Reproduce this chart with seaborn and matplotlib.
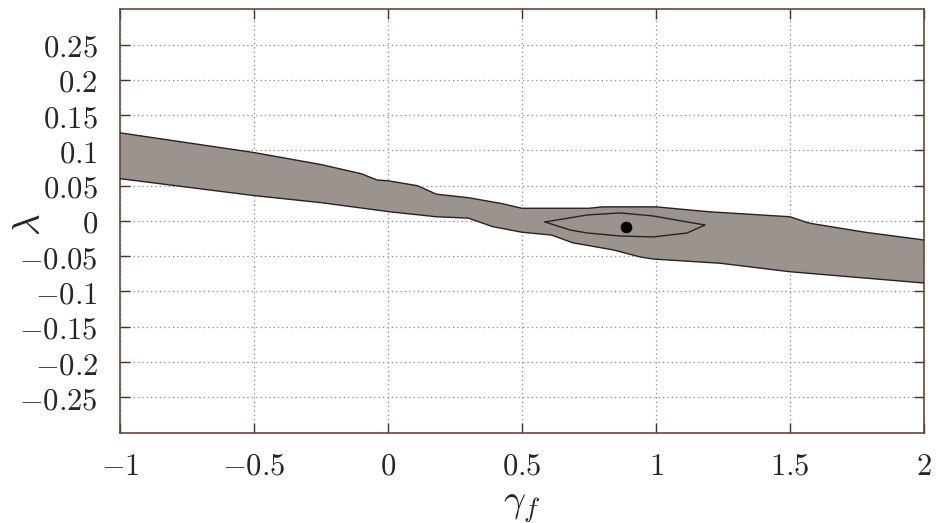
import matplotlib
matplotlib.use("Agg")
import matplotlib.pyplot as plt
import seaborn as sns
import numpy as np
import pandas as pd

# ---- data ----
upper_x = [-1.0, -0.5, -0.25, -0.1, -0.04, 0.0, 0.11, 0.18, 0.3, 0.42, 0.5, 0.75, 0.8, 1.0, 1.2, 1.5, 1.57, 1.78, 2.0]
upper_y = [0.125, 0.097, 0.08, 0.067, 0.058, 0.057, 0.05, 0.038, 0.033, 0.025, 0.018, 0.018, 0.02, 0.02, 0.013, 0.006, -0.003, -0.016, -0.027]
lower_x = [-1.0, -0.5, -0.25, 0.007, 0.18, 0.3, 0.39, 0.5, 0.61, 0.69, 0.84, 0.94, 0.99, 1.24, 1.5, 2.0]
lower_y = [0.06, 0.036, 0.026, 0.013, 0.006, 0.004, -0.008, -0.016, -0.02, -0.031, -0.041, -0.051, -0.054, -0.06, -0.072, -0.088]

inner_up_x = [0.586, 0.743, 0.866, 0.989, 1.116, 1.183]
inner_up_y = [-0.0014, 0.0085, 0.0114, 0.0071, -0.0014, -0.0057]
inner_lo_x = [0.586, 0.679, 0.743, 0.866, 0.989, 1.116, 1.183]
inner_lo_y = [-0.0014, -0.0128, -0.017, -0.0213, -0.0227, -0.017, -0.0057]

best_x = [0.888]
best_y = [-0.0085]

x_ticks = [-1, -0.5, 0, 0.5, 1, 1.5, 2]
y_ticks = [-0.25, -0.2, -0.15, -0.1, -0.05, 0, 0.05, 0.1, 0.15, 0.2, 0.25]

sns.set_theme(style="white")
plt.rcParams['font.family'] = ['DejaVu Serif']
plt.rcParams['mathtext.fontset'] = 'cm'

fig = plt.figure(figsize=(9.41, 5.23), dpi=100)
ax = fig.add_axes([0.1275, 0.173, 0.8545, 0.809])

fill_col = "#9b938e"
edge_col = "#2b2220"

# outer region polygon
poly_x = upper_x + lower_x[::-1]
poly_y = upper_y + lower_y[::-1]
ax.fill(poly_x, poly_y, color=fill_col, lw=0, zorder=2)
sns.lineplot(x=upper_x, y=upper_y, ax=ax, color=edge_col, lw=1.0, sort=False, estimator=None, zorder=3)
sns.lineplot(x=lower_x, y=lower_y, ax=ax, color=edge_col, lw=1.0, sort=False, estimator=None, zorder=3)

# inner contour
in_x = inner_up_x + inner_lo_x[::-1]
in_y = inner_up_y + inner_lo_y[::-1]
ax.plot(in_x, in_y, color=edge_col, lw=1.0, zorder=4)

sns.scatterplot(x=best_x, y=best_y, ax=ax, color="black", s=60, edgecolor="black", zorder=5)

ax.set_xlim(-1, 2)
ax.set_ylim(-0.3, 0.3)
ax.set_xticks(x_ticks)
ax.set_yticks(y_ticks)

def fmt(v):
    return r"$%s$" % ("%g" % v)

ax.set_xticklabels([fmt(v) for v in x_ticks], fontsize=22)
ax.set_yticklabels([fmt(v) for v in y_ticks], fontsize=22)

ax.grid(True, linestyle=(0, (1, 2.5)), color="#8a8a8a", lw=0.9, zorder=1)
ax.set_axisbelow(True)
ax.tick_params(direction="in", length=7, width=1.0, color="#4a3028",
               top=True, right=True, bottom=True, left=True)
ax.tick_params(axis="y", pad=16)
ax.tick_params(axis="x", pad=13)
for s in ax.spines.values():
    s.set_color("#6b4636")
    s.set_linewidth(1.2)

ax.set_xlabel(r"$\gamma_f$", fontsize=28)
ax.xaxis.set_label_coords(0.5, -0.13)
ax.set_ylabel(r"$\lambda$", fontsize=27, va="center")
ax.yaxis.set_label_coords(-0.112, 0.49)

fig.savefig("out.png", dpi=100)
